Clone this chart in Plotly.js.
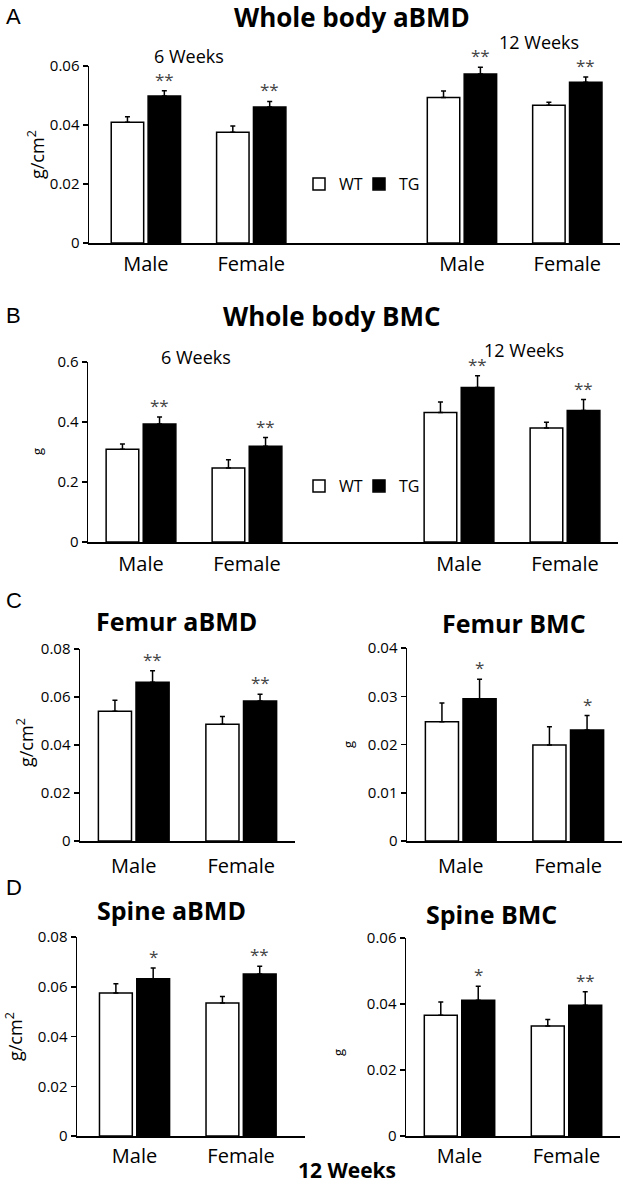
<!DOCTYPE html>
<html>
<head>
<meta charset="utf-8">
<script src="https://cdn.plot.ly/plotly-3.0.1.min.js"></script>
<style>
  html, body { margin: 0; padding: 0; background: #fff; }
  #fig { width: 625px; height: 1183px; }
</style>
</head>
<body>
<div id="fig"></div>
<script>
// ---- data (WT = open bars, TG = filled bars) ----
// A/B: 6 weeks Male, Female | gap | 12 weeks Male, Female
const wbPos = [0, 1, 3, 4];
const wbLabels = ['Male', 'Female', 'Male', 'Female'];

const wbBmdWT = [0.0409, 0.0375, 0.0493, 0.0467];
const wbBmdWTerr = [0.0019, 0.0022, 0.0022, 0.0010];
const wbBmdTG = [0.0498, 0.0461, 0.0573, 0.0545];
const wbBmdTGerr = [0.0018, 0.0019, 0.0023, 0.0018];
const wbBmdSig = ['**', '**', '**', '**'];

const wbBmcWT = [0.309, 0.247, 0.432, 0.380];
const wbBmcWTerr = [0.018, 0.027, 0.035, 0.019];
const wbBmcTG = [0.393, 0.319, 0.515, 0.438];
const wbBmcTGerr = [0.024, 0.029, 0.039, 0.037];
const wbBmcSig = ['**', '**', '**', '**'];

// C/D: 12 weeks
const sexPos = [0, 1];
const sexLabels = ['Male', 'Female'];

const femBmdWT = [0.0541, 0.0486];
const femBmdWTerr = [0.0045, 0.0033];
const femBmdTG = [0.0661, 0.0583];
const femBmdTGerr = [0.0048, 0.0028];
const femBmdSig = ['**', '**'];

const femBmcWT = [0.0247, 0.0199];
const femBmcWTerr = [0.0039, 0.0038];
const femBmcTG = [0.0295, 0.0230];
const femBmcTGerr = [0.0040, 0.0030];
const femBmcSig = ['*', '*'];

const spBmdWT = [0.0575, 0.0535];
const spBmdWTerr = [0.0037, 0.0026];
const spBmdTG = [0.0632, 0.0651];
const spBmdTGerr = [0.0043, 0.0031];
const spBmdSig = ['*', '**'];

const spBmcWT = [0.0366, 0.0333];
const spBmcWTerr = [0.0040, 0.0020];
const spBmcTG = [0.0411, 0.0396];
const spBmcTGerr = [0.0043, 0.0041];
const spBmcSig = ['*', '**'];

// ---- page geometry ----
const W = 625, H = 1183;
const FONT = '"Open Sans", Lato, sans-serif';
const BARGAP = 0.3;
const tgShift = (1 - BARGAP) / 4;   // centre of the 2nd bar in a group
const xd = (a, b) => [a / W, b / W];
const yd = (top, bottom) => [1 - bottom / H, 1 - top / H];

const panels = [
  { xa: 'x',  ya: 'y',  pos: wbPos,  labels: wbLabels,  wt: wbBmdWT,  wtErr: wbBmdWTerr,  tg: wbBmdTG,  tgErr: wbBmdTGerr,  sig: wbBmdSig,  legend: 'legend' },
  { xa: 'x2', ya: 'y2', pos: wbPos,  labels: wbLabels,  wt: wbBmcWT,  wtErr: wbBmcWTerr,  tg: wbBmcTG,  tgErr: wbBmcTGerr,  sig: wbBmcSig,  legend: 'legend2' },
  { xa: 'x3', ya: 'y3', pos: sexPos, labels: sexLabels, wt: femBmdWT, wtErr: femBmdWTerr, tg: femBmdTG, tgErr: femBmdTGerr, sig: femBmdSig },
  { xa: 'x4', ya: 'y4', pos: sexPos, labels: sexLabels, wt: femBmcWT, wtErr: femBmcWTerr, tg: femBmcTG, tgErr: femBmcTGerr, sig: femBmcSig },
  { xa: 'x5', ya: 'y5', pos: sexPos, labels: sexLabels, wt: spBmdWT,  wtErr: spBmdWTerr,  tg: spBmdTG,  tgErr: spBmdTGerr,  sig: spBmdSig },
  { xa: 'x6', ya: 'y6', pos: sexPos, labels: sexLabels, wt: spBmcWT,  wtErr: spBmcWTerr,  tg: spBmcTG,  tgErr: spBmcTGerr,  sig: spBmcSig }
];

const errBar = (arr) => ({
  type: 'data', symmetric: false, array: arr, arrayminus: arr.map(() => 0),
  color: '#000', thickness: 1.5, width: 2.5
});

const traces = [];
const annotations = [];
panels.forEach(p => {
  traces.push({
    type: 'bar', name: 'WT', x: p.pos, y: p.wt, xaxis: p.xa, yaxis: p.ya,
    marker: { color: '#fff', line: { color: '#000', width: 1.5 } },
    error_y: errBar(p.wtErr), showlegend: !!p.legend, legend: p.legend || 'legend', hoverinfo: 'y'
  });
  traces.push({
    type: 'bar', name: 'TG', x: p.pos, y: p.tg, xaxis: p.xa, yaxis: p.ya,
    marker: { color: '#000', line: { color: '#000', width: 1.5 } },
    error_y: errBar(p.tgErr), showlegend: !!p.legend, legend: p.legend || 'legend', hoverinfo: 'y'
  });
  // significance stars above the TG error bars
  p.pos.forEach((x, i) => {
    annotations.push({
      xref: p.xa, yref: p.ya, x: x + tgShift, y: p.tg[i] + p.tgErr[i],
      text: p.sig[i], showarrow: false, yanchor: 'bottom', yshift: -2,
      font: { family: FONT, size: 17, color: '#444' }
    });
  });
});

const xAxis = (dom, range, p, standoff) => ({
  domain: dom, range: range, tickvals: p.pos, ticktext: p.labels,
  showline: true, linecolor: '#000', linewidth: 1.5, ticks: '', showgrid: false,
  ticklabelstandoff: standoff,
  zeroline: false, fixedrange: true, tickfont: { family: FONT, size: 20, color: '#000' }
});
const yAxis = (dom, range, dtick) => ({
  domain: dom, range: range, dtick: dtick,
  showline: true, linecolor: '#000', linewidth: 1.5, ticks: 'outside', ticklen: 5,
  tickwidth: 1.5, tickcolor: '#000', showgrid: false, zeroline: false, fixedrange: true,
  tickfont: { family: FONT, size: 15, color: '#000' }
});

const txt = (text, x, y, size, opts) => Object.assign({
  xref: 'paper', yref: 'paper', x: x / W, y: 1 - y / H, text: text, showarrow: false,
  xanchor: 'center', yanchor: 'middle', font: { family: FONT, size: size, color: '#000' }
}, opts || {});
const letter = (t, y) => txt(t, 4, y, 22, { xanchor: 'left', font: { family: 'Liberation Sans, Arial', size: 22, color: '#000' } });
const yTitle = (t, x, y, size) => txt(t, x, y, size, { textangle: -90 });

annotations.push(
  letter('A', 16), letter('B', 315), letter('C', 601), letter('D', 887),
  txt('<b>Whole body aBMD</b>', 352, 17, 26),
  txt('<b>Whole body BMC</b>', 331, 316, 26),
  txt('<b>Femur aBMD</b>', 176, 621, 25),
  txt('<b>Femur BMC</b>', 514, 623, 25),
  txt('<b>Spine aBMD</b>', 171, 910, 25),
  txt('<b>Spine BMC</b>', 491, 914, 25),
  txt('6 Weeks', 189, 56, 18),
  txt('12 Weeks', 539, 42, 18),
  txt('6 Weeks', 196, 357, 18),
  txt('12 Weeks', 524, 350, 18),
  txt('<b>12 Weeks</b>', 347, 1170, 21),
  yTitle('g/cm<sup>2</sup>', 36, 155, 18),
  yTitle('g', 37, 452, 13),
  yTitle('g/cm<sup>2</sup>', 25, 743, 18),
  yTitle('g', 348, 745, 13),
  yTitle('g/cm<sup>2</sup>', 14, 1037, 18),
  yTitle('g', 338, 1052, 13)
);

const legendStyle = (y) => ({
  x: 299 / W, y: 1 - y / H, xanchor: 'left', yanchor: 'middle', orientation: 'h',
  bgcolor: 'rgba(0,0,0,0)', itemwidth: 30, entrywidth: 15, entrywidthmode: 'pixels',
  traceorder: 'normal', font: { family: FONT, size: 16, color: '#000' }
});

const layout = {
  width: W, height: H, margin: { l: 0, r: 0, t: 0, b: 0 },
  paper_bgcolor: '#fff', plot_bgcolor: '#fff',
  barmode: 'group', bargap: BARGAP, bargroupgap: 0.12,
  font: { family: FONT, color: '#000' },
  xaxis:  xAxis(xd(89, 620),  [-0.54, 4.5], panels[0], 2),
  yaxis:  yAxis(yd(66, 243),  [0, 0.06], 0.02),
  xaxis2: xAxis(xd(88, 618),  [-0.5, 4.5],  panels[1], 3),
  yaxis2: yAxis(yd(362, 542), [0, 0.6], 0.2),
  xaxis3: xAxis(xd(80, 295),  [-0.5, 1.5],  panels[2], 6),
  yaxis3: yAxis(yd(649, 841), [0, 0.08], 0.02),
  xaxis4: xAxis(xd(407, 622), [-0.5, 1.5],  panels[3], 6),
  yaxis4: yAxis(yd(648, 841), [0, 0.04], 0.01),
  xaxis5: xAxis(xd(77, 305),  [-0.54, 1.6], panels[4], 1),
  yaxis5: yAxis(yd(937, 1136), [0, 0.08], 0.02),
  xaxis6: xAxis(xd(406, 620), [-0.5, 1.5],  panels[5], 1),
  yaxis6: yAxis(yd(938, 1136), [0, 0.06], 0.02),
  legend: legendStyle(184),
  legend2: legendStyle(486),
  annotations: annotations
};
['', '2', '3', '4', '5', '6'].forEach(k => {
  layout['xaxis' + k].anchor = 'y' + k;
  layout['yaxis' + k].anchor = 'x' + k;
});

Plotly.newPlot('fig', traces, layout, { staticPlot: true, displayModeBar: false });
</script>
</body>
</html>
